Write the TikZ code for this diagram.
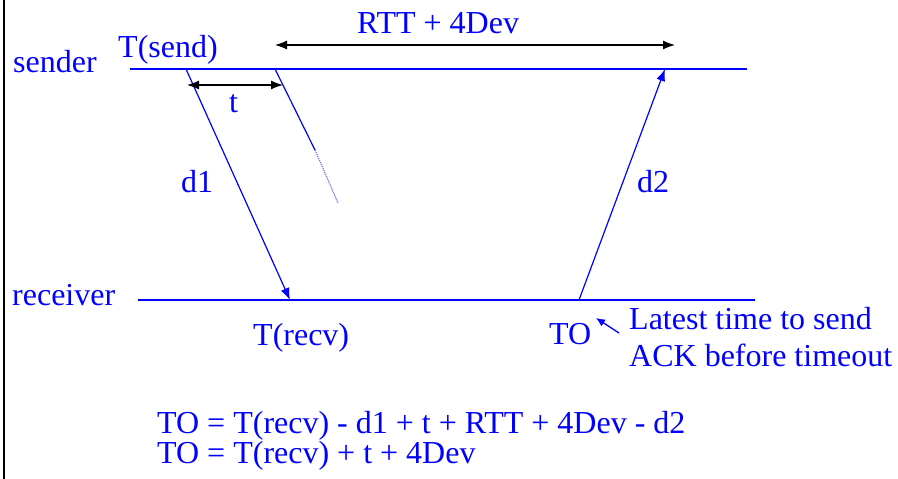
\documentclass[tikz,border=0pt]{standalone}
\usepackage{fontspec}
\setmainfont{Liberation Serif}
\usetikzlibrary{arrows.meta}
\definecolor{ink}{RGB}{0,0,255}
\definecolor{fadeink}{RGB}{110,110,255}

\begin{document}
\begin{tikzpicture}[x=1pt,y=-1pt,
  lbl/.style={anchor=base west, inner sep=0pt, text=ink, font=\fontsize{32}{38}\selectfont},
  timeline/.style={draw=ink, line width=1.5pt},
  msg/.style={draw=ink, line width=1.2pt, -{Latex[length=12pt,width=9pt]}},
  span/.style={draw=black, line width=1.2pt, {Latex[length=12pt,width=9pt]}-{Latex[length=12pt,width=9pt]}},
  pointer/.style={draw=ink, line width=1.3pt, -{Latex[length=9pt,width=8pt]}}]
\useasboundingbox (0,0) rectangle (898,479);

% left frame edge
\draw[line width=2.5pt] (4,0) -- (4,479);

% time lines
\coordinate (s0) at (130,69);  \coordinate (s1) at (747,69);
\coordinate (r0) at (138,300); \coordinate (r1) at (755,300);
\draw[timeline] (s0) -- (s1);
\draw[timeline] (r0) -- (r1);

% message points
\coordinate (send)   at (186,69);
\coordinate (recv)   at (290,300);
\coordinate (resend) at (275,69);
\coordinate (lost)   at (315,150);
\coordinate (fade)   at (338,203);
\coordinate (ackout) at (579,300);
\coordinate (ackin)  at (665,69);

% segment and ACK
\draw[msg] (send) -- (recv);
\draw[draw=ink, line width=1.2pt] (resend) -- (lost);
\draw[draw=fadeink, line width=1.2pt, densely dotted] (lost) -- (fade);
\draw[msg] (ackout) -- (ackin);

% intervals
\coordinate (tL) at (187,85);  \coordinate (tR) at (283,85);
\coordinate (rttL) at (275,45); \coordinate (rttR) at (675,45);
\draw[span] (tL) -- (tR);
\draw[span] (rttL) -- (rttR);

% labels
\node[lbl] (sender)   at (13,72)   {sender};
\node[lbl] (receiver) at (12,305)  {receiver};
\node[lbl] (tsend)    at (118,57)  {T(send)};
\node[lbl] (tlab)     at (229,112) {t};
\node[lbl] (rtt)      at (357,33)  {RTT + 4Dev};
\node[lbl] (d1)       at (181,192) {d1};
\node[lbl] (d2)       at (637,192) {d2};
\node[lbl] (trecv)    at (253,345) {T(recv)};
\node[lbl] (to)       at (549,344) {TO};
\node[lbl] (note1)    at (629,329) {Latest time to send};
\node[lbl] (note2)    at (629,366) {ACK before timeout};
\node[lbl] (eq1)      at (157,433) {TO = T(recv) - d1 + t + RTT + 4Dev - d2};
\node[lbl] (eq2)      at (157,463) {TO = T(recv) + t + 4Dev};

% pointer from the note to TO
\coordinate (ptail) at (619,333);
\coordinate (phead) at (596,318);
\draw[pointer] (ptail) -- (phead);
\end{tikzpicture}
\end{document}
